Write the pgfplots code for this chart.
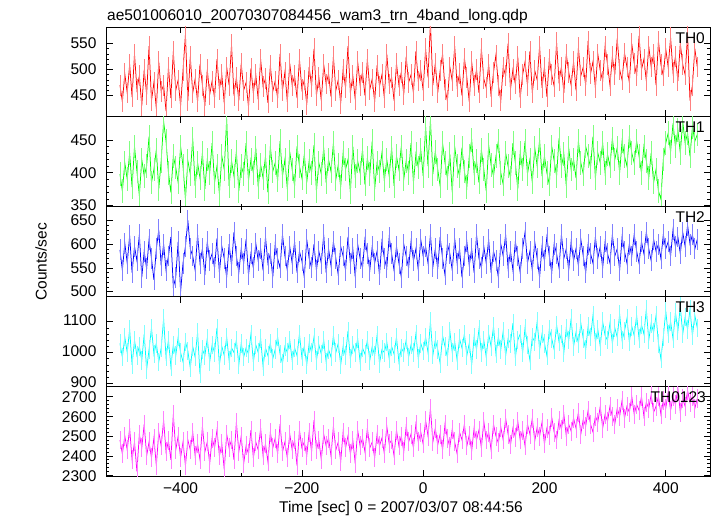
\documentclass[border=0pt]{standalone}
\usepackage{fontspec}
\setmainfont{Liberation Sans}
\usepackage{pgfplots}
\pgfplotsset{compat=1.18}
\usepackage{pgfplotstable}
\definecolor{qred}{RGB}{255,0,0}
\definecolor{qgreen}{RGB}{0,255,0}
\definecolor{qblue}{RGB}{0,0,255}
\definecolor{qcyan}{RGB}{0,255,255}
\definecolor{qmag}{RGB}{255,0,255}

\pgfplotstableread{
t th0 th1 th2 th3 th0123
-500 470 398 588 1030 2480
-496 438 372 545 985 2410
-492 492 415 602 1050 2500
-488 455 390 560 1000 2430
-484 510 430 618 1075 2540
-480 447 378 540 960 2380
-476 530 440 595 1040 2470
-472 462 402 565 990 2320
-468 488 365 620 1020 2510
-464 430 420 530 975 2440
-460 500 395 585 1060 2560
-456 452 410 548 945 2400
-452 545 455 610 1010 2470
-448 440 385 570 1080 2390
-444 475 405 525 995 2490
-440 425 435 590 1030 2350
-436 515 375 630 970 2520
-432 458 418 555 1015 2450
-428 470 478 600 1110 2580
-424 420 448 545 985 2420
-420 505 400 575 1040 2475
-416 445 370 615 955 2380
-412 535 425 510 1025 2610
-408 460 408 530 990 2430
-404 480 385 605 1050 2500
-400 430 440 500 1000 2390
-396 498 410 560 970 2470
-392 568 360 595 1035 2350
-388 440 418 650 1005 2480
-384 525 398 590 950 2430
-380 455 452 575 1020 2520
-376 482 380 545 985 2400
-372 438 415 620 1065 2460
-368 510 392 560 930 2380
-364 470 430 590 1010 2550
-360 430 375 535 990 2420
-356 500 420 605 1045 2470
-352 452 400 565 970 2360
-348 478 445 580 1025 2490
-344 445 385 550 1000 2440
-340 520 410 612 1080 2530
-336 462 368 540 960 2400
-332 490 425 595 1020 2460
-328 435 405 570 990 2330
-324 505 482 530 1050 2510
-320 470 380 600 975 2440
-316 548 418 555 1015 2480
-312 450 395 625 1000 2380
-308 485 432 575 1040 2570
-304 440 372 540 960 2420
-300 512 410 590 1030 2500
-296 460 398 560 985 2360
-292 475 445 610 1015 2450
-288 428 388 535 995 2410
-284 502 420 580 1060 2530
-280 455 400 550 970 2390
-276 490 438 602 1025 2470
-272 442 378 565 1000 2430
-268 520 412 590 1045 2540
-264 468 392 545 955 2400
-260 483 425 615 1015 2460
-256 436 370 560 990 2370
-252 508 440 580 1030 2520
-248 458 402 530 980 2440
-244 478 415 600 1010 2490
-240 445 388 570 1050 2410
-236 530 448 550 995 2560
-232 460 395 620 965 2420
-228 495 420 575 1020 2470
-224 438 375 545 1000 2390
-220 512 432 595 1040 2510
-216 470 405 560 975 2430
-212 488 380 605 1015 2480
-208 445 440 540 990 2350
-204 520 410 585 1060 2530
-200 462 392 565 985 2440
-196 480 428 530 1020 2470
-192 432 385 610 960 2400
-188 505 418 570 1030 2520
-184 468 400 550 1000 2420
-180 540 442 600 1050 2580
-176 450 372 545 975 2430
-172 485 415 585 1025 2480
-168 440 398 560 995 2380
-164 510 438 620 1040 2510
-160 472 385 540 970 2450
-156 492 420 590 1010 2490
-152 448 402 555 985 2400
-148 525 445 605 1055 2550
-144 460 390 570 1000 2430
-140 480 412 535 1030 2470
-136 435 378 595 960 2370
-132 500 430 575 1020 2520
-128 465 405 545 990 2440
-124 545 420 615 1070 2500
-120 455 370 560 980 2410
-116 488 440 590 1025 2480
-112 442 395 530 1000 2360
-108 515 418 600 1045 2530
-104 470 400 570 970 2450
-100 495 435 550 1015 2490
-96 450 382 610 995 2420
-92 520 422 580 1040 2540
-88 462 398 545 975 2440
-84 482 448 595 1020 2470
-80 438 375 560 990 2390
-76 508 415 585 1055 2510
-72 468 402 535 965 2450
-68 490 430 605 1010 2490
-64 445 388 570 1000 2410
-60 530 420 550 1035 2550
-56 472 395 615 980 2460
-52 485 438 580 1020 2480
-48 440 380 545 995 2400
-44 512 425 595 1050 2530
-40 470 405 560 970 2450
-36 495 440 530 1015 2500
-32 452 390 600 1000 2420
-28 525 418 575 1040 2550
-24 475 400 550 985 2470
-20 490 445 605 1025 2510
-16 455 385 565 1000 2440
-12 535 428 590 1060 2560
-8 478 408 545 980 2470
-4 498 435 610 1030 2520
0 460 395 575 1005 2460
4 540 470 595 1050 2580
8 485 410 560 1000 2500
12 590 480 620 1100 2640
16 470 398 552 992 2470
20 512 432 590 1040 2540
24 455 405 548 1010 2455
28 498 380 615 965 2510
32 530 445 570 1055 2430
36 462 415 535 1020 2560
40 440 392 600 985 2490
44 505 428 580 1070 2445
48 478 370 545 1000 2535
52 545 440 612 1035 2470
56 468 410 560 975 2410
60 492 395 590 1045 2520
64 450 438 530 1015 2480
68 522 402 575 1060 2560
72 485 378 605 990 2450
76 438 425 555 1030 2505
80 515 450 590 960 2425
84 470 400 540 1050 2540
88 500 418 620 1010 2480
92 455 385 570 1075 2530
96 540 435 550 1000 2440
100 482 405 595 1040 2575
104 465 372 560 985 2480
108 510 442 610 1060 2520
112 448 412 540 1020 2430
116 495 395 585 1085 2560
120 528 425 565 995 2500
124 470 448 530 1050 2465
128 440 400 600 1010 2545
132 505 382 575 1070 2480
136 488 430 620 990 2590
140 550 410 550 1045 2510
144 462 392 585 1030 2455
148 500 445 545 1095 2540
152 472 415 605 985 2495
156 525 375 575 1040 2575
160 445 430 540 1060 2480
164 490 405 590 1000 2530
168 515 448 625 1080 2450
172 470 398 560 1025 2560
176 535 420 585 975 2510
180 455 385 545 1050 2590
184 498 438 605 1035 2475
188 480 410 570 1100 2545
192 545 450 530 1010 2500
196 465 395 595 1060 2570
200 505 425 565 1030 2460
204 448 400 615 990 2540
208 520 382 575 1075 2505
212 490 440 540 1045 2595
216 468 418 600 1010 2520
220 552 395 580 1090 2480
224 478 452 550 1035 2580
228 505 410 620 1060 2535
232 455 428 570 1000 2610
236 530 380 590 1080 2500
240 495 438 545 1040 2560
244 470 405 605 1110 2525
248 515 420 565 1020 2590
252 460 392 590 1065 2540
256 542 448 555 1030 2620
260 488 415 610 1095 2510
264 505 398 575 1045 2585
268 470 440 540 1010 2550
272 555 425 600 1085 2630
276 492 408 580 1050 2560
280 515 455 560 1120 2520
284 465 392 615 1035 2600
288 530 430 570 1075 2570
292 498 415 595 1020 2650
296 478 445 550 1100 2540
300 545 400 605 1055 2610
304 510 428 580 1040 2575
308 470 410 560 1095 2650
312 525 452 620 1030 2600
316 490 420 575 1080 2560
320 560 438 590 1050 2640
324 500 400 545 1125 2600
328 480 448 615 1040 2680
332 532 425 585 1070 2590
336 505 410 560 1110 2650
340 475 455 600 1035 2620
344 550 430 575 1085 2700
348 512 415 620 1055 2610
352 488 448 585 1120 2660
356 565 425 560 1045 2630
360 500 400 605 1090 2700
364 520 440 580 1060 2600
368 478 418 625 1140 2670
372 545 392 590 1040 2640
376 505 430 565 1095 2710
380 530 385 610 1065 2620
384 470 405 585 1120 2650
388 555 372 600 1030 2700
392 510 360 570 980 2610
396 488 420 620 1050 2680
400 540 445 590 1135 2640
404 505 460 605 1060 2720
408 562 432 575 1100 2630
412 495 475 630 1045 2700
416 525 440 595 1130 2660
420 478 465 615 1070 2740
424 550 430 580 1150 2620
428 510 478 625 1060 2690
432 490 445 595 1115 2650
436 568 460 640 1075 2730
440 440 425 600 1140 2670
444 470 470 620 1055 2700
448 540 448 590 1120 2640
452 505 458 610 1080 2690
}\lc

\pgfplotsset{panel/.style={
  scale only axis, width=604bp, height=89.8bp, anchor=south west,
  xmin=-523, xmax=473,
  xtick={-400,-200,0,200,400}, minor x tick num=1,
  minor y tick num=4,
  major tick length=6.5bp, minor tick length=3bp,
  tick style={black, line width=0.6bp},
  axis line style={line width=0.8bp},
  every tick label/.append style={font=\fontsize{15.5bp}{18bp}\selectfont},
  yticklabel style={xshift=-6bp},
  xticklabel style={yshift=-3.5bp},
  scaled y ticks=false,
  /pgf/number format/assume math mode=true,
  /pgf/number format/set thousands separator={},
  clip=true,
}}

\begin{document}
\begin{tikzpicture}[font=\fontsize{15.5bp}{18bp}\selectfont]
\path[use as bounding box] (0,0) rectangle (717bp,516bp);

\begin{axis}[panel, at={(106bp,399.2bp)}, ymin=409, ymax=582, ytick={450,500,550}, xticklabels={}]
\addplot[qred, line width=0.75bp, error bars/.cd, y dir=both, y fixed=20,
  error mark=none, error bar style={qred!50!white, line width=0.75bp}] table[x=t, y=th0] {\lc};
\node[anchor=north east, inner sep=0pt, xshift=-5bp, yshift=-5bp] at (rel axis cs:1,1) {TH0};
\end{axis}

\begin{axis}[panel, at={(106bp,309.4bp)}, ymin=348.5, ymax=485, ytick={350,400,450}, xticklabels={}]
\addplot[qgreen, line width=0.75bp, error bars/.cd, y dir=both, y fixed=18,
  error mark=none, error bar style={qgreen!50!white, line width=0.75bp}] table[x=t, y=th1] {\lc};
\node[anchor=north east, inner sep=0pt, xshift=-5bp, yshift=-5bp] at (rel axis cs:1,1) {TH1};
\end{axis}

\begin{axis}[panel, at={(106bp,219.6bp)}, ymin=490, ymax=679, ytick={500,550,600,650}, xticklabels={}]
\addplot[qblue, line width=0.75bp, error bars/.cd, y dir=both, y fixed=22,
  error mark=none, error bar style={qblue!50!white, line width=0.75bp}] table[x=t, y=th2] {\lc};
\node[anchor=north east, inner sep=0pt, xshift=-5bp, yshift=-5bp] at (rel axis cs:1,1) {TH2};
\end{axis}

\begin{axis}[panel, at={(106bp,129.8bp)}, ymin=891, ymax=1182, ytick={900,1000,1100}, xticklabels={},
  yticklabel style={yshift=1.5bp}]
\addplot[qcyan, line width=0.75bp, error bars/.cd, y dir=both, y fixed=30,
  error mark=none, error bar style={qcyan!50!white, line width=0.75bp}] table[x=t, y=th3] {\lc};
\node[anchor=north east, inner sep=0pt, xshift=-5bp, yshift=-5bp] at (rel axis cs:1,1) {TH3};
\end{axis}

\begin{axis}[panel, at={(106bp,40bp)}, ymin=2298, ymax=2752, ytick={2300,2400,2500,2600,2700},
  xticklabels={−400,−200,0,200,400}, yticklabel style={yshift=-0.5bp}]
\addplot[qmag, line width=0.75bp, error bars/.cd, y dir=both, y fixed=48,
  error mark=none, error bar style={qmag!50!white, line width=0.75bp}] table[x=t, y=th0123] {\lc};
\node[anchor=north east, inner sep=0pt, xshift=-4bp, yshift=-5bp] at (rel axis cs:1,1) {TH0123};
\end{axis}

\node[anchor=base west, inner sep=0pt] at (107bp,495.3bp) {ae501006010\_20070307084456\_wam3\_trn\_4band\_long.qdp};
\node[rotate=90, inner sep=0pt] at (41bp,254bp) {Counts/sec};
\node[anchor=base, inner sep=0pt] at (401bp,3.5bp) {Time [sec] 0 = 2007/03/07 08:44:56};
\end{tikzpicture}
\end{document}
